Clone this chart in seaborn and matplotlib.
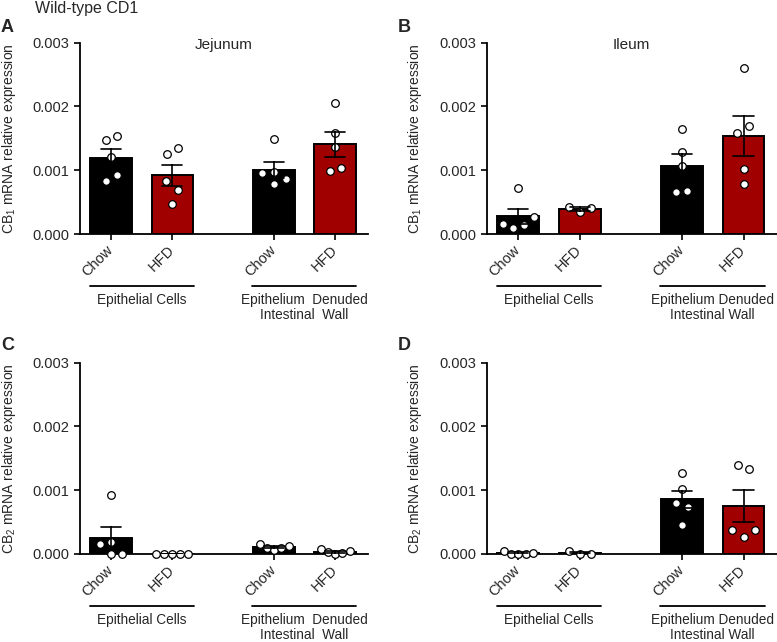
import numpy as np
import pandas as pd
import matplotlib
matplotlib.use("Agg")
import matplotlib.pyplot as plt
import matplotlib.transforms as mtransforms
import seaborn as sns

# bar order inside each panel
DIETS = ["Chow", "HFD", "Chow", "HFD"]
POSITIONS = [0, 1, 2.66, 3.66]
GROUP_NAMES = ["Epithelial Cells", "Epithelium  Denuded\nIntestinal  Wall"]

# individual measurements (relative expression), one list per bar
cb1_jejunum = [
    [0.00148, 0.00154, 0.00121, 0.00083, 0.00093],
    [0.00126, 0.00135, 0.00083, 0.00069, 0.00047],
    [0.00149, 0.00095, 0.00097, 0.00086, 0.00078],
    [0.00206, 0.00159, 0.00136, 0.00099, 0.00104],
]
cb1_ileum = [
    [0.00072, 0.00016, 0.00009, 0.00014, 0.00027],
    [0.00043, 0.00034, 0.00041],
    [0.00165, 0.00128, 0.00107, 0.00066, 0.00068],
    [0.00260, 0.00159, 0.00170, 0.00102, 0.00079],
]
cb2_jejunum = [
    [0.00092, 0.00015, 0.00019, 0.0, 0.0],
    [0.0, 0.0, 0.0, 0.0, 0.0],
    [0.00016, 0.00010, 0.00006, 0.00009, 0.00013],
    [0.00008, 0.00003, 0.0, 0.00002, 0.00004],
]
cb2_ileum = [
    [0.00005, 0.0, 0.0, 0.0, 0.00002],
    [0.000045, 0.0, 0.0],
    [0.00127, 0.00102, 0.00080, 0.00073, 0.00046],
    [0.00140, 0.00134, 0.00037, 0.00027, 0.00037],
]

# horizontal spread of the dots around each bar centre (x units)
spread_a = [[-0.09, 0.09, 0.0, -0.09, 0.09], [-0.09, 0.09, -0.1, 0.09, 0.0],
            [0.0, -0.19, 0.0, 0.19, 0.0], [0.0, 0.0, 0.0, -0.09, 0.1]]
spread_b = [[0.0, -0.25, -0.08, 0.09, 0.25], [-0.18, 0.0, 0.18],
            [0.0, 0.0, 0.0, -0.09, 0.09], [0.0, -0.1, 0.09, 0.0, 0.0]]
spread_c = [[0.0, -0.18, 0.0, 0.0, 0.18], [-0.26, -0.13, 0.0, 0.13, 0.26],
            [-0.23, -0.11, 0.0, 0.12, 0.24], [-0.23, -0.11, 0.0, 0.12, 0.24]]
spread_d = [[-0.23, -0.11, 0.0, 0.12, 0.24], [-0.18, 0.0, 0.19],
            [0.0, 0.0, -0.09, 0.1, 0.0], [-0.09, 0.09, -0.18, 0.0, 0.19]]

PALETTE = {"Chow": "black", "HFD": "#a00000"}

sns.set_style("ticks")
plt.rcParams["font.family"] = ["Liberation Sans", "DejaVu Sans"]
plt.rcParams["mathtext.fontset"] = "custom"
plt.rcParams["mathtext.rm"] = "Liberation Sans"
plt.rcParams["mathtext.it"] = "Liberation Sans:italic"


def build_frame(values, spread):
    rows = []
    for i, (vals, offs) in enumerate(zip(values, spread)):
        for v, o in zip(vals, offs):
            rows.append({"pos": POSITIONS[i], "diet": DIETS[i], "value": v,
                         "xdot": POSITIONS[i] + o})
    return pd.DataFrame(rows)


def draw_panel(ax, values, spread, ylabel, title, group_names):
    df = build_frame(values, spread)
    sns.barplot(data=df, x="pos", y="value", hue="diet", hue_order=["Chow", "HFD"],
                palette=PALETTE, saturation=1, native_scale=True, dodge=False,
                width=0.68, errorbar="se", capsize=0.33,
                err_kws={"color": "black", "linewidth": 1.2},
                edgecolor="black", linewidth=1.4, legend=False, ax=ax)
    sns.scatterplot(x=df["xdot"], y=df["value"], color="white", edgecolor="black",
                    s=30, linewidth=0.9, zorder=3, clip_on=False, ax=ax)
    for line in ax.lines:
        line.set_zorder(4)

    ax.set_xlim(-0.51, 4.2)
    ax.set_ylim(0, 0.003)
    ax.set_yticks([0, 0.001, 0.002, 0.003])
    ax.set_yticklabels(["0.000", "0.001", "0.002", "0.003"], fontsize=10.5)
    ax.set_xticks(POSITIONS)
    ax.set_xticklabels(DIETS, rotation=45, ha="right", va="center",
                       rotation_mode="anchor", fontsize=10.5)
    ax.tick_params(axis="both", length=4, width=1.2, color="black")
    ax.tick_params(axis="x", pad=6)
    ax.set_xlabel("")
    ax.set_ylabel(ylabel, fontsize=10)
    ax.yaxis.set_label_coords(-0.215, 0.5)
    for side in ["left", "bottom"]:
        ax.spines[side].set_linewidth(1.3)
        ax.spines[side].set_color("black")
    sns.despine(ax=ax)

    if title:
        ax.text(0.5, 0.988, title, transform=ax.transAxes, ha="center",
                va="center", fontsize=11)

    trans = mtransforms.blended_transform_factory(ax.transData, ax.transAxes)
    for k, name in enumerate(group_names):
        centre = (POSITIONS[2 * k] + POSITIONS[2 * k + 1]) / 2
        ax.plot([centre - 0.85, centre + 0.85], [-0.272, -0.272], color="black",
                linewidth=1.3, transform=trans, clip_on=False)
        ax.text(centre, -0.31, name, transform=trans, ha="center", va="top",
                fontsize=9.8, linespacing=1.1)


fig = plt.figure(figsize=(7.77, 6.42), dpi=100)
ax_a = fig.add_axes([0.1030, 0.6355, 0.3707, 0.2980])
ax_b = fig.add_axes([0.6264, 0.6355, 0.3733, 0.2980])
ax_c = fig.add_axes([0.1030, 0.1371, 0.3707, 0.2980])
ax_d = fig.add_axes([0.6264, 0.1371, 0.3733, 0.2980])

wall_single = ["Epithelial Cells", "Epithelium Denuded\nIntestinal Wall"]
draw_panel(ax_a, cb1_jejunum, spread_a, "CB$_1$ mRNA relative expression", "Jejunum", GROUP_NAMES)
draw_panel(ax_b, cb1_ileum, spread_b, "CB$_1$ mRNA relative expression", "Ileum", wall_single)
draw_panel(ax_c, cb2_jejunum, spread_c, "CB$_2$ mRNA relative expression", None, GROUP_NAMES)
draw_panel(ax_d, cb2_ileum, spread_d, "CB$_2$ mRNA relative expression", None, wall_single)

fig.text(35 / 777, 1 - 9 / 642, "Wild-type CD1", fontsize=11.5, va="center")
for letter, (x, y) in zip("ABCD", [(1, 27), (398, 27), (1, 345), (398, 345)]):
    fig.text(x / 777, 1 - y / 642, letter, fontsize=13, fontweight="bold", va="center")

fig.savefig("out.png", dpi=100)
